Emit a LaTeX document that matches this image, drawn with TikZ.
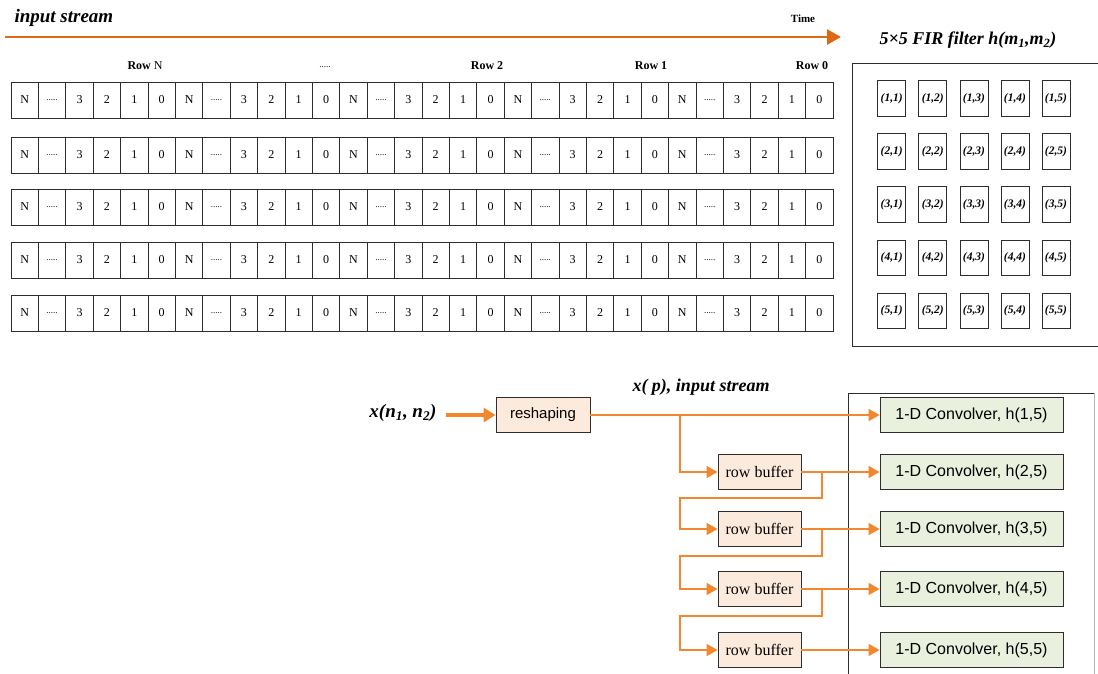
\documentclass[tikz,border=0pt]{standalone}
\usepackage{fontspec}
\setmainfont{Liberation Serif}
\newfontfamily\arialf{Liberation Sans}
\usetikzlibrary{arrows.meta}
\definecolor{timeor}{RGB}{222,105,20}
\definecolor{lineor}{RGB}{242,135,45}
\definecolor{peach}{RGB}{252,234,220}
\definecolor{sage}{RGB}{234,240,222}
\definecolor{edge}{RGB}{45,45,45}
\newcommand{\fivedots}{.....}
\begin{document}
\begin{tikzpicture}[x=1pt,y=-1pt,
 cell/.style={draw=edge,line width=0.8pt,minimum width=27.4pt,minimum height=36pt,inner sep=0pt,font=\fontsize{12}{14}\selectfont},
 dots/.style={cell,font=\fontsize{9}{10}\selectfont},
 tap/.style={draw=edge,line width=0.8pt,minimum width=28pt,minimum height=35.5pt,inner sep=0pt,font=\fontsize{11.5}{13}\selectfont\bfseries\itshape},
 conv/.style={draw=edge,fill=sage,line width=0.9pt,minimum width=183pt,minimum height=35pt,inner sep=0pt,font=\arialf\fontsize{16}{18}\selectfont},
 buf/.style={draw=edge,fill=peach,line width=0.9pt,minimum width=83pt,minimum height=35pt,inner sep=0pt,font=\fontsize{16}{18}\selectfont},
 flow/.style={draw=lineor,line width=1.4pt,-{Triangle[length=11pt,width=12pt]}},
 rowlab/.style={font=\fontsize{12}{14}\selectfont},
 title/.style={font=\fontsize{19}{22}\selectfont\bfseries\itshape},
]
\useasboundingbox (0,0) rectangle (1098,673);

% top: input stream and time arrow
\node[title,anchor=west] (instream) at (11,18) {input stream};
\node[font=\fontsize{11}{13}\selectfont\bfseries] (time) at (803,19) {Time};
\coordinate (ts) at (5,37);
\coordinate (te) at (841,37);
\draw[timeor,line width=2.8pt,-{Triangle[length=14pt,width=15pt]}] (ts) -- (te);

% row labels
\node[rowlab] (lrN) at (145,66) {\textbf{Row} N};
\node[rowlab] (lrd) at (325,67) {\fontsize{9}{10}\selectfont\fivedots};
\node[rowlab] (lr2) at (487,66) {\textbf{Row 2}};
\node[rowlab] (lr1) at (651,66) {\textbf{Row 1}};
\node[rowlab] (lr0) at (812,66) {\textbf{Row 0}};

% stream rows
\foreach \r/\y in {1/100,2/155,3/207,4/260,5/313}{
  \foreach \g in {0,1,2,3,4}{
    \foreach \t [count=\k from 0] in {N,D,3,2,1,0}{
      \pgfmathsetmacro{\cx}{11+27.4*(6*\g+\k)+13.7}
      \ifnum\k=1
        \node[dots] (c-\r-\g-\k) at (\cx,\y) {\fivedots};
      \else
        \node[cell] (c-\r-\g-\k) at (\cx,\y) {\t};
      \fi
    }
  }
}

% FIR filter
\node[font=\fontsize{18}{21}\selectfont\bfseries\itshape] (firtitle) at (968,40) {5×5 FIR filter h(m\textsubscript{1},m\textsubscript{2})};
\draw[edge,line width=0.9pt] (1110,63) -- (852,63) -- (852,346) -- (1110,346);
\foreach \i/\y in {1/98.3,2/151.3,3/204.5,4/257.7,5/310.8}{
  \foreach \j/\x in {1/891.7,2/932.8,3/974,4/1015,5/1056}{
    \node[tap] (f-\i-\j) at (\x,\y) {(\i,\j)};
  }
}

% bottom section
\draw[edge,line width=0.9pt] (1094,393) -- (848,393) -- (848,700);
\draw[gray!60,line width=0.6pt] (1094,393) -- (1094,700);

\node[font=\fontsize{19}{22}\selectfont\bfseries\itshape] (xin) at (403,413) {x(n\textsubscript{1}, n\textsubscript{2})};
\node[draw=edge,fill=peach,line width=0.9pt,minimum width=94pt,minimum height=35pt,inner sep=0pt,font=\arialf\fontsize{15}{18}\selectfont] (reshape) at (543,415) {reshaping};
\draw[lineor,line width=4pt,-{Triangle[length=12pt,width=14pt]},shorten <=6pt] (xin.east |- reshape) -- (reshape.west);
\node[font=\fontsize{18}{21}\selectfont\bfseries\itshape] (xp) at (701,387) {x( p), input stream};

\foreach \n/\y in {1/415,2/472,3/529,4/589,5/650}{
  \node[conv] (conv\n) at (971.5,\y) {1-D Convolver, h(\n,5)};
}
\foreach \n/\y in {1/472,2/529,3/589,4/650}{
  \node[buf] (buf\n) at (759.5,\y) {row buffer};
}

\coordinate (b0) at (680,415);
\coordinate (b1) at (822,472);
\coordinate (b2) at (822,529);
\coordinate (b3) at (822,589);
\coordinate (d1) at (680,498);
\coordinate (d2) at (680,556);
\coordinate (d3) at (680,616);

\draw[flow] (reshape.east) -- (conv1.west);
\draw[flow] (b0) |- (buf1.west);
\draw[flow] (buf1.east) -- (conv2.west);
\draw[flow] (buf2.east) -- (conv3.west);
\draw[flow] (buf3.east) -- (conv4.west);
\draw[flow] (buf4.east) -- (conv5.west);
\draw[flow] (b1) |- (d1) |- (buf2.west);
\draw[flow] (b2) |- (d2) |- (buf3.west);
\draw[flow] (b3) |- (d3) |- (buf4.west);
\end{tikzpicture}
\end{document}
